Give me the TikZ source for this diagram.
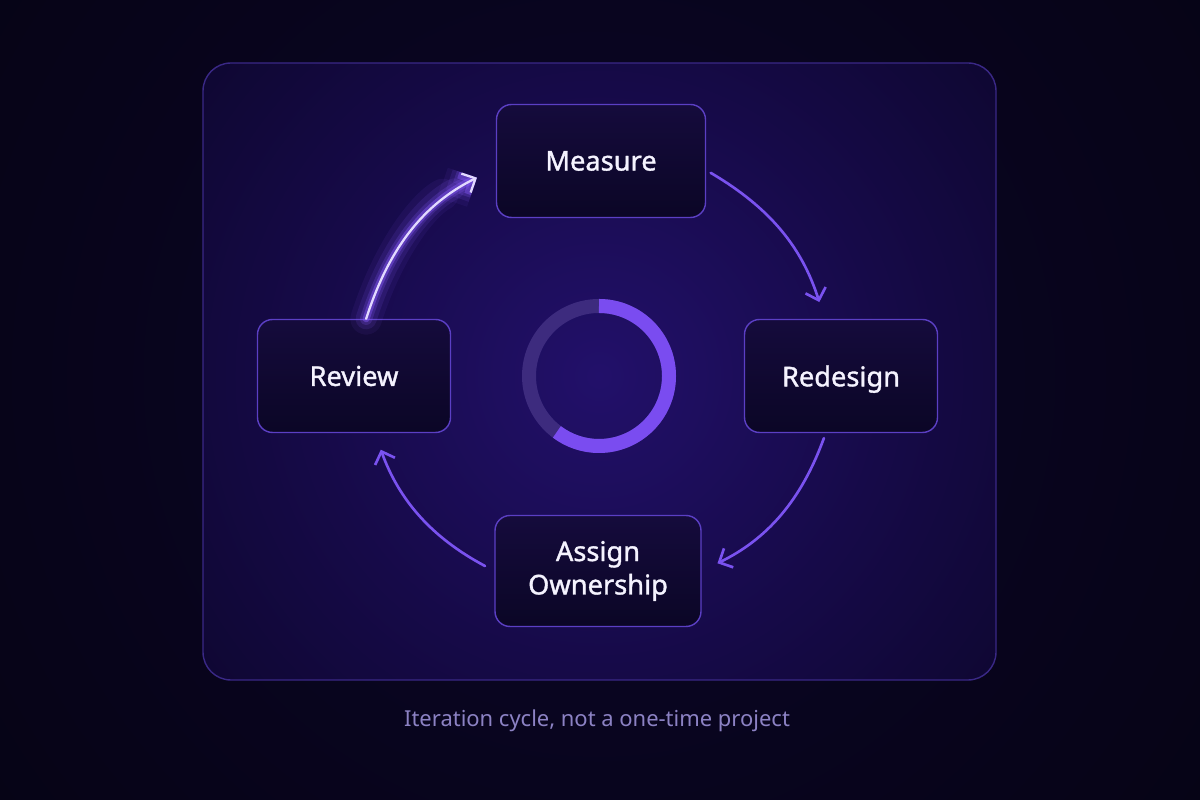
\documentclass[tikz,border=0pt]{standalone}
\usepackage{fontspec}
\setmainfont{Noto Sans}
\newfontfamily\boxFont{Noto Sans}[FakeBold=1.3]
\usetikzlibrary{arrows.meta}
\definecolor{bgDark}{HTML}{03020A}
\definecolor{bgGlow}{HTML}{0B0628}
\definecolor{panelFill}{HTML}{070420}
\definecolor{panelEdge}{HTML}{3A2886}
\definecolor{glowCore}{HTML}{22106A}
\definecolor{glowMid}{HTML}{160A48}
\definecolor{glowOut}{HTML}{0C062A}
\definecolor{boxTop}{HTML}{150B3C}
\definecolor{boxBottom}{HTML}{0B0626}
\definecolor{boxEdge}{HTML}{5B3FC4}
\definecolor{boxText}{HTML}{F5F3FF}
\definecolor{arrowPurple}{HTML}{7A52F0}
\definecolor{glowPurple}{HTML}{8A5CFF}
\definecolor{glowWhite}{HTML}{E2D9FF}
\definecolor{ringTrack}{HTML}{3D2B7E}
\definecolor{ringFill}{HTML}{7A4CF0}
\definecolor{captionText}{HTML}{8C82C4}
\pgfdeclareradialshading{pageGlow}{\pgfpointorigin}{color(0bp)=(bgGlow); color(22bp)=(bgDark!55!bgGlow); color(45bp)=(bgDark)}
\pgfdeclareradialshading{panelGlow}{\pgfpointorigin}{color(0bp)=(glowCore); color(14bp)=(glowMid); color(28bp)=(glowOut); color(50bp)=(panelFill)}
\tikzstyle{cycleBox}=[shape = rectangle, rounded corners = 0.3cm, minimum height = 2.26cm, draw = boxEdge, top color = boxTop, bottom color = boxBottom, line width = 0.8pt, text = boxText, font = \boxFont\fontsize{15.5}{19}\selectfont, align = center]
\tikzstyle{cycleArrow}=[draw = arrowPurple, line width = 1.5pt, line cap = round, -{Straight Barb[length = 6pt, width = 12pt]}]

\begin{document}
\begin{tikzpicture}[x = 0.02cm, y = 0.02cm]
\useasboundingbox (0,0) rectangle (1200,800);
% background and panel
\fill[bgDark] (0,0) rectangle (1200,800);
\shade[shading = pageGlow] (599,424) circle (760);
\fill[panelFill, rounded corners = 0.56cm] (203,120) rectangle (996,737);
\begin{scope}
\clip[rounded corners = 0.56cm] (203,120) rectangle (996,737);
\shade[shading = panelGlow] (599,424) circle (520);
\end{scope}
\draw[panelEdge, line width = 0.8pt, rounded corners = 0.56cm] (203,120) rectangle (996,737);
% progress ring
\coordinate (ring) at (599,424);
\draw[ringTrack, line width = 0.28cm] (ring) circle (70);
\draw[ringFill, line width = 0.28cm] (ring) ++(90:70) arc[start angle = 90, end angle = -127, radius = 70];
% steps
\node[cycleBox, minimum width = 4.18cm] (measure) at (601,639) {Measure};
\node[cycleBox, minimum width = 3.86cm, text depth = 0pt] (redesign) at (841,424) {Redesign};
\node[cycleBox, minimum width = 4.12cm, minimum height = 2.22cm] (assign) at (598,229) {Assign\\Ownership};
\node[cycleBox, minimum width = 3.86cm] (review) at (354,424) {Review};
% arrows
\draw[cycleArrow, shorten < = 3pt, shorten > = 10pt] (measure.-5) to[bend left = 21] (redesign.106);
\draw[cycleArrow, shorten < = 3pt, shorten > = 10pt] (redesign.-105) to[bend left = 22] (assign.east);
\draw[cycleArrow, shorten < = 6pt, shorten > = 10pt] (assign.west) to[bend left = 21] (review.-70);
\foreach \w/\o in {18/0.07, 12/0.12, 7/0.2, 4/0.4} {
  \draw[glowPurple, opacity = \o, line width = \w pt, line cap = round, line join = round, shorten > = 12pt, -{Straight Barb[length = 6pt, width = 12pt]}] (review.78) to[bend left = 23] (measure.184);
}
\draw[glowWhite, line width = 1.3pt, line cap = round, shorten > = 12pt, -{Straight Barb[length = 6pt, width = 12pt]}] (review.78) to[bend left = 23] (measure.184);
% caption
\node[text = captionText, font = \fontsize{12.5}{15}\selectfont] (caption) at (597,79) {Iteration cycle, not a one-time project};
\end{tikzpicture}
\end{document}
